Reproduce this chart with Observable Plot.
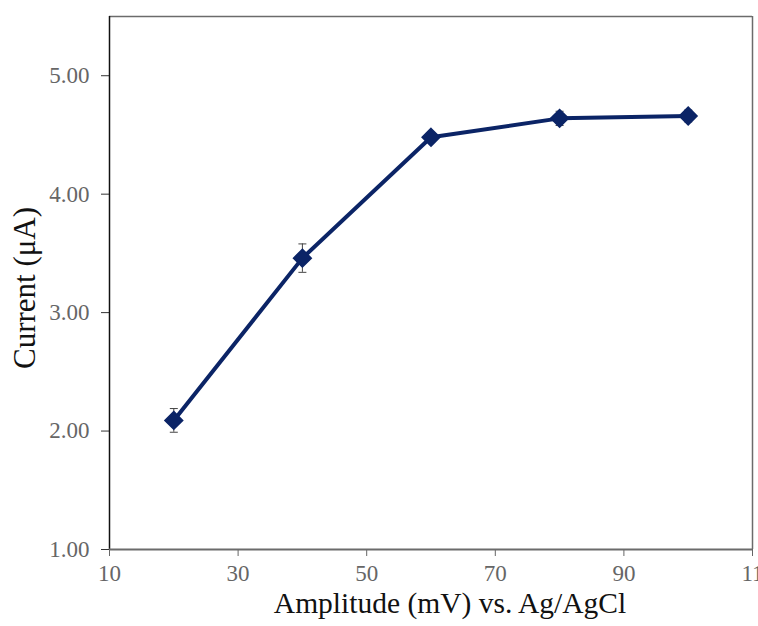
<!DOCTYPE html>
<html>
<head>
<meta charset="utf-8">
<script src="https://cdn.jsdelivr.net/npm/d3@7"></script>
<script src="https://cdn.jsdelivr.net/npm/@observablehq/plot@0.6"></script>
<style>
  html, body { margin: 0; padding: 0; background: #fff; }
  #chart svg { display: block; }
</style>
</head>
<body>
<div id="chart"></div>
<script>
const amplitude = [20, 40, 60, 80, 100];
const current = [2.09, 3.46, 4.48, 4.64, 4.66];
const errorBar = [0.10, 0.12, 0.03, 0.06, 0.05];
const xTicks = [10, 30, 50, 70, 90, 110];
const yTicks = [1, 2, 3, 4, 5];
const xTitle = "Amplitude (mV) vs. Ag/AgCl";
const yTitle = "Current (\u03bcA)";

const data = amplitude.map((a, i) => ({x: a, y: current[i], lo: current[i] - errorBar[i], hi: current[i] + errorBar[i]}));
const caps = data.flatMap(d => [{x: d.x, y: d.lo}, {x: d.x, y: d.hi}]);

const navy = "#0b2466";
const serif = "Liberation Serif, Times New Roman, serif";
const capSymbol = {draw(ctx) { ctx.moveTo(-4, 0); ctx.lineTo(4, 0); }};

const chart = Plot.plot({
  width: 758,
  height: 626,
  marginLeft: 109,
  marginRight: 6,
  marginTop: 16,
  marginBottom: 77,
  style: {fontFamily: serif, fontSize: "23px", background: "#fff"},
  x: {type: "linear", domain: [10, 110]},
  y: {type: "linear", domain: [1, 5.5]},
  marks: [
    Plot.ruleY([5.5], {stroke: "#6b6b6b", strokeWidth: 1.5}),
    Plot.ruleX([110], {stroke: "#6b6b6b", strokeWidth: 1.5}),
    Plot.axisX({ticks: xTicks, tickSize: 7, tickPadding: 8, fontSize: 23, color: "#666", stroke: "#666",
      tickFormat: d => d === 110 ? "11" : String(d), label: null}),
    Plot.axisY({ticks: yTicks, tickSize: 8, tickPadding: 12, fontSize: 23, color: "#666", stroke: "#333",
      tickFormat: d => d.toFixed(2), label: null}),
    Plot.ruleX([10], {stroke: "#111", strokeWidth: 1.5}),
    Plot.ruleY([1], {stroke: "#6b6b6b", strokeWidth: 2}),
    Plot.ruleX(data, {x: "x", y1: "lo", y2: "hi", stroke: "#444", strokeWidth: 1}),
    Plot.dot(caps, {x: "x", y: "y", symbol: capSymbol, r: 4, stroke: "#444", fill: "none", strokeWidth: 1}),
    Plot.line(data, {x: "x", y: "y", stroke: navy, strokeWidth: 4}),
    Plot.dot(data, {x: "x", y: "y", symbol: "diamond2", r: 8, fill: navy, stroke: navy}),
    Plot.text([xTitle], {frameAnchor: "bottom", dy: 63, dx: 19, fontSize: 29.5, fill: "#111", fontFamily: serif}),
    Plot.text([yTitle], {frameAnchor: "left", dx: -84, dy: 5, rotate: -90, textAnchor: "middle", lineAnchor: "middle", fontSize: 31, fill: "#111", fontFamily: serif})
  ]
});
document.getElementById("chart").appendChild(chart);
</script>
</body>
</html>
